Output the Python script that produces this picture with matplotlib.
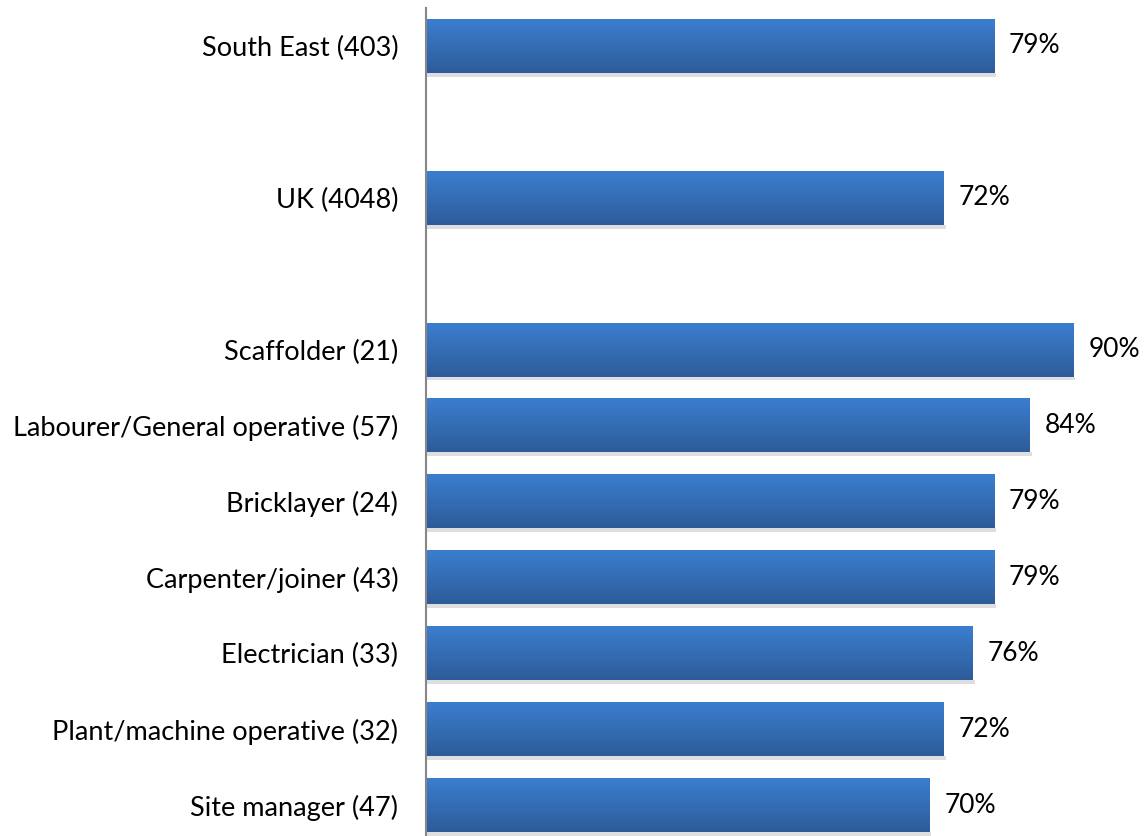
import numpy as np
import matplotlib.pyplot as plt
from matplotlib.colors import LinearSegmentedColormap

plt.rcParams['font.family'] = ['Lato', 'DejaVu Sans']

# data (top to bottom), None = empty slot
labels = ['South East (403)', '', 'UK (4048)', '',
          'Scaffolder (21)', 'Labourer/General operative (57)', 'Bricklayer (24)',
          'Carpenter/joiner (43)', 'Electrician (33)',
          'Plant/machine operative (32)', 'Site manager (47)']
values = [79, None, 72, None, 90, 84, 79, 79, 76, 72, 70]

pos = np.arange(len(labels))
vals = [v if v is not None else 0 for v in values]

fig = plt.figure(figsize=(11.45, 8.36), dpi=100)
# axis spans slot -0.5..10.5, bottom runs slightly past the figure edge
ax = fig.add_axes([426/1145, -7/836, 1 - 426/1145, 835/836])

bars = ax.barh(pos, vals, height=0.71, color='none', zorder=2)

# light at top, darker at bottom
grad = LinearSegmentedColormap.from_list('g', ['#3b7ecf', '#2e5c9a'])
g = np.linspace(0, 1, 64).reshape(-1, 1)
for b, v in zip(bars, values):
    if v is None:
        continue
    x0, y0, w, h = b.get_x(), b.get_y(), b.get_width(), b.get_height()
    # soft shadow under the bar
    ax.fill_between([x0 + 0.2, x0 + w + 0.3], y0 + h, y0 + h + 0.05,
                    color='#c8c8c8', alpha=0.6, lw=0, zorder=1)
    ax.imshow(g, cmap=grad, aspect='auto', extent=[x0, x0 + w, y0 + h, y0],
              origin='upper', zorder=2, interpolation='bilinear')
    ax.text(x0 + w + 2.1, b.get_y() + h / 2, f'{v}%', va='center', ha='left',
            fontsize=19, color='#000000')

ax.set_xlim(0, 100)
ax.set_ylim(len(labels) - 0.5, -0.5)
ax.set_yticks(pos)
ax.set_yticklabels(labels, fontsize=19.5)
ax.tick_params(axis='y', length=0, pad=20)
ax.set_xticks([])
for s in ['top', 'right', 'bottom']:
    ax.spines[s].set_visible(False)
ax.spines['left'].set_color('#868686')
ax.spines['left'].set_linewidth(1.5)

fig.savefig('out.png', dpi=100)
